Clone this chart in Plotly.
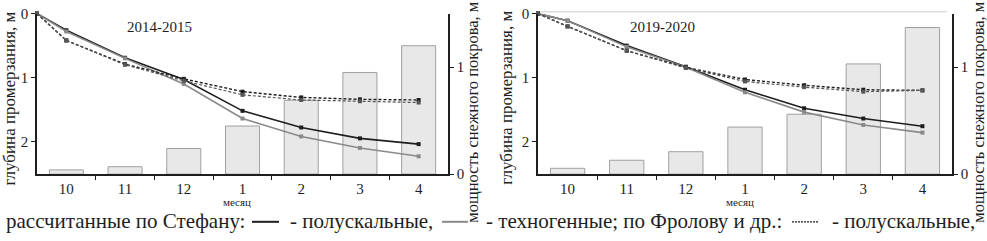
import plotly.graph_objects as go

W, H = 987, 241

months = ["10", "11", "12", "1", "2", "3", "4"]
start_depth = 0.0  # depth at the start of October

# 2014-2015
stefan_semi_1415 = [0.26, 0.69, 1.03, 1.52, 1.78, 1.95, 2.04]
stefan_tech_1415 = [0.28, 0.70, 1.10, 1.64, 1.92, 2.10, 2.23]
frolov_semi_1415 = [0.42, 0.79, 1.02, 1.22, 1.31, 1.34, 1.35]
frolov_tech_1415 = [0.42, 0.80, 1.05, 1.27, 1.35, 1.37, 1.39]
snow_1415 = [0.04, 0.07, 0.24, 0.45, 0.69, 0.95, 1.20]

# 2019-2020
stefan_semi_1920 = [0.11, 0.50, 0.83, 1.19, 1.48, 1.64, 1.76]
stefan_tech_1920 = [0.11, 0.52, 0.84, 1.23, 1.54, 1.74, 1.86]
frolov_semi_1920 = [0.20, 0.58, 0.84, 1.03, 1.12, 1.19, 1.20]
frolov_tech_1920 = [0.20, 0.58, 0.85, 1.06, 1.15, 1.22, 1.20]
snow_1920 = [0.055, 0.13, 0.21, 0.44, 0.56, 1.03, 1.37]

panel_titles = ["2014-2015", "2019-2020"]
left_title = "глубина промерзания, м"
right_title = "мощность снежного покрова, м"
x_title = "месяц"

FONT = "Liberation Serif, Tinos, Times New Roman, DejaVu Serif, serif"
BLACK = "#1e1e1e"
GRAY = "#8a8a8a"

xs = list(range(len(months)))
xs_line = [-0.5] + xs

fig = go.Figure()

panels = [
    dict(xa="x", snow_ax="y", depth_ax="y2",
         s=[stefan_semi_1415, stefan_tech_1415, frolov_semi_1415, frolov_tech_1415], snow=snow_1415),
    dict(xa="x2", snow_ax="y3", depth_ax="y4",
         s=[stefan_semi_1920, stefan_tech_1920, frolov_semi_1920, frolov_tech_1920], snow=snow_1920),
]

styles = [
    dict(color=BLACK, dash="solid", width=1.6),
    dict(color=GRAY, dash="solid", width=1.6),
    dict(color=BLACK, dash="3px,2px", width=1.4),
    dict(color="#555555", dash="3px,2px", width=1.2),
]

for p in panels:
    fig.add_trace(go.Bar(
        x=xs, y=p["snow"], xaxis=p["xa"], yaxis=p["snow_ax"], width=0.58,
        marker=dict(color="#e8e8e8", line=dict(color="#a0a0a0", width=1)),
        showlegend=False, hoverinfo="skip"))
    for ser, st in zip(p["s"], styles):
        fig.add_trace(go.Scatter(
            x=xs_line, y=[start_depth] + ser, xaxis=p["xa"], yaxis=p["depth_ax"],
            mode="lines+markers",
            line=dict(color=st["color"], dash=st["dash"], width=st["width"]),
            marker=dict(size=4, color=st["color"], symbol="square"),
            showlegend=False, hoverinfo="skip", cliponaxis=False))

y_dom = [1 - 178 / H, 1 - 6 / H]
x_doms = [[37 / W, 448 / W], [538 / W, 952 / W]]

tickfont = dict(family=FONT, size=15, color=BLACK)

def xaxis(dom, anchor):
    return dict(domain=dom, anchor=anchor, range=[-0.5, 6.5], tickmode="array",
                tickvals=xs, ticktext=months, ticks="", showgrid=False, zeroline=False,
                showline=True, linecolor=BLACK, linewidth=1.5, tickfont=tickfont,
                ticklabelstandoff=0,
                minor=dict(tickvals=[i + 0.5 for i in xs[:-1]], ticks="outside",
                           ticklen=4, tickcolor=BLACK, tickwidth=1, showgrid=False))

def snow_axis(anchor):
    return dict(domain=y_dom, anchor=anchor, side="right", range=[0, 1.5],
                tickvals=[0, 1], ticks="outside", ticklen=4, tickcolor=BLACK,
                showgrid=False, zeroline=False, showline=True, linecolor=BLACK,
                linewidth=1.5, tickfont=tickfont, ticklabeloverflow="allow")

def depth_axis(anchor, over):
    return dict(domain=y_dom, anchor=anchor, side="left", overlaying=over,
                range=[2.51, 0], tickvals=[0, 1, 2], ticks="outside", ticklen=4,
                tickcolor=BLACK, showgrid=False, zeroline=False, showline=True,
                linecolor=BLACK, linewidth=1.5, tickfont=tickfont,
                ticklabeloverflow="allow")

fig.update_layout(
    width=W, height=H, margin=dict(l=0, r=0, t=0, b=0),
    paper_bgcolor="white", plot_bgcolor="rgba(0,0,0,0)",
    font=dict(family=FONT, color=BLACK),
    bargap=0.4,
    xaxis=xaxis(x_doms[0], "y"),
    xaxis2=xaxis(x_doms[1], "y3"),
    yaxis=snow_axis("x"),
    yaxis2=depth_axis("x", "y"),
    yaxis3=snow_axis("x2"),
    yaxis4=depth_axis("x2", "y3"),
)

def A(text, x, y, size, **kw):
    d = dict(text=text, x=x / W, y=1 - y / H, xref="paper", yref="paper",
             showarrow=False, xanchor="center", yanchor="middle",
             font=dict(family=FONT, size=size, color=BLACK))
    d.update(kw)
    return d

ann = []
for t, cx in zip(panel_titles, [159, 662]):
    ann.append(A(t, cx, 20, 15))
for cx, cy in [(10, 97), (507, 96)]:
    ann.append(A(left_title, cx, cy, 17, textangle=-90))
for cx, cy in [(473, 111), (979, 111)]:
    ann.append(A(right_title, cx, cy, 16.5, textangle=-90))
for cx in [237, 740]:
    ann.append(A(x_title, cx, 208, 11))

LY = 228
segments = [
    ("рассчитанные по Стефану:", 4),
    ("- полускальные,", 288),
    ("- техногенные; по Фролову и др.:", 484),
    ("- полускальные,", 830),
]
for t, x0 in segments:
    ann.append(A(t, x0, LY, 21, xanchor="left"))
fig.update_layout(annotations=ann)

ly = 1 - (LY + 1) / H
shapes = [
    dict(type="line", xref="paper", yref="paper", x0=252 / W, x1=279 / W, y0=ly, y1=ly,
         line=dict(color=BLACK, width=2)),
    dict(type="line", xref="paper", yref="paper", x0=442 / W, x1=468 / W, y0=ly, y1=ly,
         line=dict(color=GRAY, width=2)),
    dict(type="line", xref="paper", yref="paper", x0=792 / W, x1=819 / W, y0=ly, y1=ly,
         line=dict(color=BLACK, width=1.2, dash="2px,1px")),
    dict(type="line", xref="paper", yref="paper", x0=540 / W, x1=947 / W, y0=1 - 4 / H, y1=1 - 4 / H,
         line=dict(color="#dddddd", width=1.5)),
]
fig.update_layout(shapes=shapes)

fig.write_html("out.html", config={"displayModeBar": False},
               post_script="document.body.style.margin='0';document.body.style.overflow='hidden';")
